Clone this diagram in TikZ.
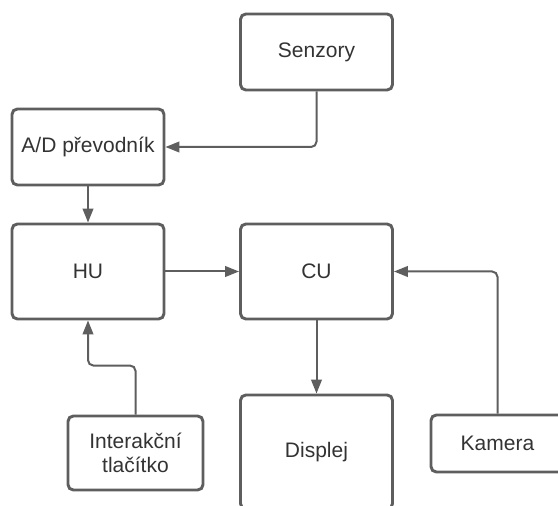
\documentclass[tikz,border=0pt]{standalone}
\usepackage{fontspec}
\setmainfont{Liberation Sans}
\usetikzlibrary{arrows.meta}
\definecolor{linegray}{RGB}{94,94,94}
\definecolor{textgray}{RGB}{51,51,51}

\begin{document}
\begin{tikzpicture}[x=0.75pt,y=-0.75pt,
box/.style={draw=linegray, line width=2.2pt, rounded corners=4pt, fill=white,
  text=textgray, align=center, font=\fontsize{15.75}{18}\selectfont, inner sep=0pt},
arr/.style={draw=linegray, line width=1.5pt, rounded corners=4pt,
  -{Triangle[length=10.5pt,width=8pt]}}]
\clip (0,0) rectangle (558,506);
\node[box, minimum width=114pt, minimum height=57pt] (senz) at (316.5,52) {Senzory};
\node[box, minimum width=114pt, minimum height=57pt] (ad) at (88,147) {A/D převodník};
\node[box, minimum width=114pt, minimum height=71.25pt] (hu) at (88,271.5) {HU};
\node[box, minimum width=114pt, minimum height=71.25pt] (cu) at (316.5,271.5) {CU};
\node[box, minimum width=114pt, minimum height=85.5pt] (disp) at (316.5,452) {Displej};
\node[box, minimum width=101.25pt, minimum height=55.5pt] (btn) at (135.5,453) {Interakční\\tlačítko};
\node[box, minimum width=99.75pt, minimum height=42.75pt] (kam) at (497.5,443.5) {Kamera};

\draw[arr] (senz.south) |- (ad.east);
\draw[arr] (ad.south) -- (hu.north);
\draw[arr] (hu.east) -- (cu.west);
\draw[arr] (cu.south) -- (disp.north);
\draw[arr] (kam.north) |- (cu.east);
\draw[arr] (btn.north) -- ++(0,-49) -| (hu.south);
\end{tikzpicture}
\end{document}
